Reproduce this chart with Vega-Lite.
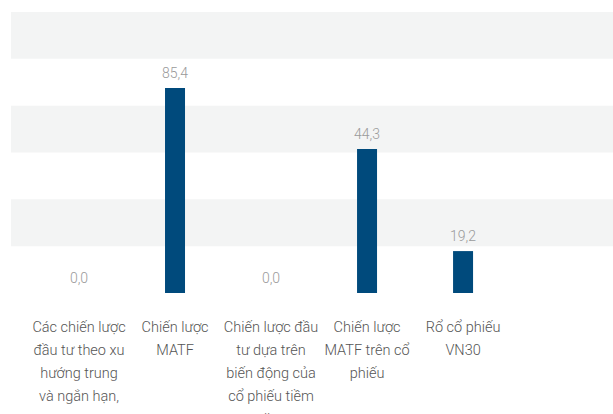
{
  "$schema": "https://vega.github.io/schema/vega-lite/v6.json",
  "width": 602,
  "height": 281,
  "padding": {"left": 11, "top": 12, "right": 0, "bottom": 0},
  "background": "#ffffff",
  "config": {"view": {"stroke": null}, "font": "Roboto"},
  "datasets": {
    "bars": [
      {"name": "Các chiến lược\nđầu tư theo xu\nhướng trung\nvà ngắn hạn,", "value": 0, "label": "0,0"},
      {"name": "Chiến lược\nMATF", "value": 87.5, "label": "85,4"},
      {"name": "Chiến lược đầu\ntư dựa trên\nbiến động của\ncổ phiếu tiềm\nnăng", "value": 0, "label": "0,0"},
      {"name": "Chiến lược\nMATF trên cổ\nphiếu", "value": 61.5, "label": "44,3"},
      {"name": "Rổ cổ phiếu\nVN30", "value": 17.9, "label": "19,2"}
    ],
    "bands": [
      {"lo": 100, "hi": 120},
      {"lo": 60, "hi": 80},
      {"lo": 20, "hi": 40}
    ]
  },
  "layer": [
    {
      "data": {"name": "bands"},
      "mark": {"type": "rect", "color": "#f3f4f4"},
      "encoding": {
        "y": {"field": "lo", "type": "quantitative", "scale": {"domain": [0, 120]}, "axis": null},
        "y2": {"field": "hi"}
      }
    },
    {
      "data": {"name": "bars"},
      "mark": {"type": "bar", "size": 20, "color": "#004a7c"},
      "encoding": {
        "x": {
          "field": "name", "type": "nominal", "sort": null,
          "scale": {"paddingInner": 0, "paddingOuter": 0.635, "align": 0.164},
          "axis": {
            "title": null, "ticks": false, "domain": false, "labelAngle": 0,
            "labelExpr": "split(datum.label, '\\n')",
            "labelFontSize": 14.5, "labelFontWeight": 300, "labelLineHeight": 23, "labelColor": "#555555",
            "labelPadding": 27, "labelLimit": 0, "labelBaseline": "top"
          }
        },
        "y": {"field": "value", "type": "quantitative", "scale": {"domain": [0, 120]}, "axis": null}
      }
    },
    {
      "data": {"name": "bars"},
      "mark": {"type": "text", "baseline": "bottom", "dy": -7, "fontSize": 14, "fontWeight": 300, "color": "#9a9a9a"},
      "encoding": {
        "x": {"field": "name", "type": "nominal", "sort": null},
        "y": {"field": "value", "type": "quantitative"},
        "text": {"field": "label"}
      }
    },
    {
      "mark": {"type": "rule", "color": "#0c2d50", "strokeWidth": 3},
      "encoding": {"y": {"datum": 0}}
    }
  ]
}
